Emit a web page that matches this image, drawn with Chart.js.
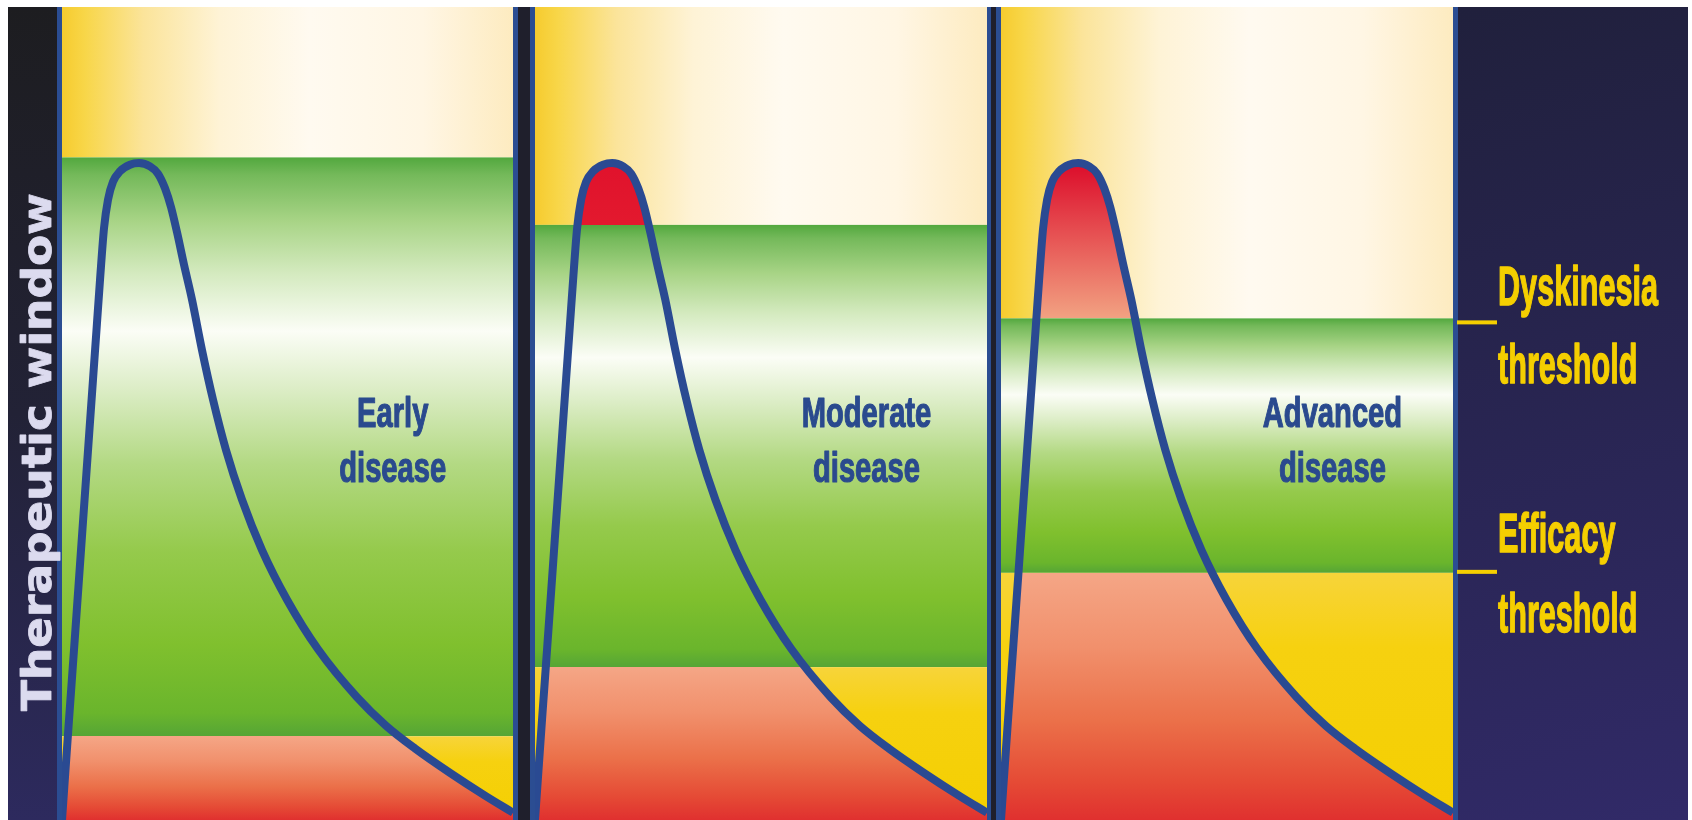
<!DOCTYPE html>
<html>
<head>
<meta charset="utf-8">
<script src="https://cdn.jsdelivr.net/npm/chart.js@4.4.0/dist/chart.umd.min.js"></script>
<style>
  html, body { margin: 0; padding: 0; background: #fff; }
  body { width: 1692px; height: 820px; position: relative; overflow: hidden; }
  .panel { position: absolute; top: 0; height: 820px; }
  .divider { position: absolute; top: 7px; height: 813px; }
</style>
</head>
<body>
<div class="panel" style="left:0;width:513px"><canvas id="early"></canvas></div>
<div class="divider" style="left:513px;width:22px;background:linear-gradient(to right,#2b4d92 0 5px,#1f1f2c 5px 17px,#2b4d92 17px 22px)"></div>
<div class="panel" style="left:535px;width:452px"><canvas id="moderate"></canvas></div>
<div class="divider" style="left:987px;width:14px;background:linear-gradient(to right,#2b4d92 0 4px,#1f1f2c 4px 9px,#2b4d92 9px 14px)"></div>
<div class="panel" style="left:1001px;width:691px"><canvas id="advanced"></canvas></div>
<script>
// levodopa plasma level after one dose (same curve in every stage)
const hours = [0, 0.186, 0.325, 0.524, 0.726, 0.929, 1.011, 1.118, 1.224, 1.357, 1.543, 1.809, 2.049,
  2.342, 2.554, 2.741, 2.900, 3.060, 3.246, 3.459, 3.725, 4.018, 4.364, 4.789, 5.322, 5.987,
  6.812, 7.850, 8.621, 9.393, 10.324, 11.255, 12];
const levodopaLevel = [0, 12.3, 21.3, 34.4, 47.7, 61.0, 66.4, 72.8, 76.3, 78.5, 79.8, 80.6, 80.8,
  80.4, 79.5, 77.7, 75.4, 72.3, 68.3, 64.0, 57.8, 51.7, 45.5, 39.4, 33.2, 27.1,
  21.0, 15.1, 11.6, 8.8, 5.8, 3.0, 0.9];

const stages = [['Early', 'disease'], ['Moderate', 'disease'], ['Advanced', 'disease']];
const dyskinesiaThreshold = [81.5, 73.2, 61.7];
const efficacyThreshold = [10.3, 18.8, 30.4];

const sideLabels = [['Dyskinesia', 'threshold'], ['Efficacy', 'threshold']];
const axisTitle = 'Therapeutic window';

// colours
const lineBlue = '#2a4a92';
const creamShades = [[0, '#f6cb2e'], [0.05, '#f8d648'], [0.18, '#fbe49a'], [0.35, '#fef3d6'], [0.55, '#fffaf0'], [0.8, '#fff6e4'], [1, '#fdebc0']];
const greenShades = [[0, '#52a83e'], [0.03, '#74b95a'], [0.11, '#a8d486'], [0.2, '#d4eabf'], [0.3, '#fbfdf6'], [0.4, '#dcedc6'], [0.53, '#b3d983'], [0.68, '#95ca4c'], [0.84, '#80c02e'], [0.96, '#6ab52c'], [1, '#55a536']];
const lowShades = [[0, '#f5a686'], [0.3, '#f1906c'], [0.6, '#eb7049'], [0.85, '#e54a35'], [1, '#e0302f']];
const peakShades = [['#e0142c', '#e0142c'], ['#e0122c', '#e3192e'], ['#dc0c2a', '#f2a282']];

const NARROW = '"Liberation Sans Narrow", "Liberation Sans", Arial, sans-serif';

function addStops(g, stops, from, to) {
  stops.forEach(([p, c]) => g.addColorStop(from + (to - from) * p, c));
}

// fill below the curve: red over the dyskinesia line, clear in the window, salmon under efficacy
function underCurveFill(chart, stage) {
  const a = chart.chartArea;
  if (!a) return 'transparent';
  const y = chart.scales.y;
  const h = a.bottom - a.top;
  const f = v => Math.min(1, Math.max(0, (y.getPixelForValue(v) - a.top) / h));
  const fD = f(dyskinesiaThreshold[stage]);
  const fE = f(efficacyThreshold[stage]);
  const fPeak = Math.min(f(Math.max(...levodopaLevel)), fD);
  const g = chart.ctx.createLinearGradient(0, a.top, 0, a.bottom);
  const [hot, warm] = peakShades[stage];
  g.addColorStop(0, hot);
  g.addColorStop(fPeak, hot);
  g.addColorStop(fD, warm);
  g.addColorStop(fD, 'rgba(255,255,255,0)');
  g.addColorStop(fE, 'rgba(255,255,255,0)');
  addStops(g, lowShades, fE, 1);
  return g;
}

function drawFit(ctx, text, x, y, font, sx, align, weight) {
  ctx.save();
  ctx.font = font;
  ctx.translate(x, y);
  ctx.scale(sx, 1);
  ctx.textAlign = align;
  ctx.fillText(text, 0, 0);
  if (weight) {
    ctx.lineWidth = weight;
    ctx.lineJoin = 'round';
    ctx.strokeStyle = ctx.fillStyle;
    ctx.strokeText(text, 0, 0);
  }
  ctx.restore();
}

const bandsPlugin = {
  id: 'stageBands',
  beforeDraw(chart, args, opts) {
    const { ctx, chartArea: a, scales: { y } } = chart;
    const yD = y.getPixelForValue(dyskinesiaThreshold[opts.stage]);
    const yE = y.getPixelForValue(efficacyThreshold[opts.stage]);
    ctx.save();
    let g = ctx.createLinearGradient(a.left, 0, a.right, 0);
    addStops(g, creamShades, 0, 1);
    ctx.fillStyle = g;
    ctx.fillRect(a.left, a.top, a.width, yD - a.top);

    g = ctx.createLinearGradient(0, yD, 0, yE);
    addStops(g, greenShades, 0, 1);
    ctx.fillStyle = g;
    ctx.fillRect(a.left, yD, a.width, yE - yD);

    g = ctx.createLinearGradient(0, yE, 0, a.bottom);
    g.addColorStop(0, '#f7d43a');
    g.addColorStop(0.3, '#f6d110');
    g.addColorStop(1, '#f4cf00');
    ctx.fillStyle = g;
    ctx.fillRect(a.left, yE, a.width, a.bottom - yE);

    if (opts.side === 'left') {
      g = ctx.createLinearGradient(0, a.top, 0, a.bottom);
      g.addColorStop(0, '#1d1d20');
      g.addColorStop(0.5, '#222236');
      g.addColorStop(1, '#2d2a5e');
      ctx.fillStyle = g;
      ctx.fillRect(8, a.top, a.left - 13, a.bottom - a.top);
      ctx.fillStyle = '#2b4d92';
      ctx.fillRect(a.left - 5, a.top, 5, a.bottom - a.top);
    }
    if (opts.side === 'right') {
      g = ctx.createLinearGradient(a.right, a.top, chart.width, a.bottom);
      g.addColorStop(0, '#20203c');
      g.addColorStop(1, '#312a68');
      ctx.fillStyle = g;
      ctx.fillRect(a.right + 5, a.top, chart.width - a.right - 9, a.bottom - a.top);
      ctx.fillStyle = '#2b4d92';
      ctx.fillRect(a.right, a.top, 5, a.bottom - a.top);
    }
    ctx.restore();
  },
  afterDraw(chart, args, opts) {
    const { ctx, chartArea: a, scales: { x, y } } = chart;
    ctx.save();
    // stage label
    const font = 'bold 42px ' + NARROW;
    ctx.font = font;
    const sx = 107 / ctx.measureText('disease').width;
    ctx.fillStyle = '#2a4a8e';
    const cx = x.getPixelForValue(opts.labelHour);
    stages[opts.stage].forEach((w, k) => {
      drawFit(ctx, w, cx, y.getPixelForValue(opts.labelLevels[k]), font, sx, 'center', 1.2);
    });

    if (opts.side === 'left') {
      const tf = 'bold 41px "DejaVu Sans", "Liberation Sans", Arial, sans-serif';
      ctx.font = tf;
      const tsx = 518 / ctx.measureText(axisTitle).width;
      ctx.save();
      ctx.translate(51, 452);
      ctx.rotate(-Math.PI / 2);
      ctx.fillStyle = '#dcdbef';
      drawFit(ctx, axisTitle, 0, 0, tf, tsx, 'center', 0.8);
      ctx.restore();
    }
    if (opts.side === 'right') {
      const yD = y.getPixelForValue(dyskinesiaThreshold[opts.stage]);
      const yE = y.getPixelForValue(efficacyThreshold[opts.stage]);
      const rf = 'bold 56px ' + NARROW;
      ctx.font = rf;
      const rsx = 160 / ctx.measureText(sideLabels[0][0]).width;
      ctx.fillStyle = '#f5cf00';
      const lx = a.right + 45;
      ctx.fillRect(a.right + 4, yD + 2, 40, 4);
      ctx.fillRect(a.right + 4, yE - 3, 40, 4);
      drawFit(ctx, sideLabels[0][0], lx, yD - 13, rf, rsx, 'left', 1.5);
      drawFit(ctx, sideLabels[0][1], lx, yD + 65, rf, rsx, 'left', 1.5);
      drawFit(ctx, sideLabels[1][0], lx, yE - 21, rf, rsx, 'left', 1.5);
      drawFit(ctx, sideLabels[1][1], lx, yE + 59, rf, rsx, 'left', 1.5);
    }
    ctx.restore();
  }
};

function panelChart(id, stage, padding, side) {
  return new Chart(document.getElementById(id), {
    type: 'line',
    data: {
      datasets: [{
        data: hours.map((h, k) => ({ x: h, y: levodopaLevel[k] })),
        borderColor: lineBlue,
        borderWidth: 8,
        cubicInterpolationMode: 'monotone',
        fill: 'origin',
        backgroundColor: c => underCurveFill(c.chart, stage),
        pointRadius: 0
      }]
    },
    options: {
      responsive: true,
      maintainAspectRatio: false,
      animation: false,
      events: [],
      layout: { padding },
      plugins: {
        legend: { display: false },
        tooltip: { enabled: false },
        stageBands: { stage, side, labelHour: 8.8, labelLevels: [48.3, 41.6] }
      },
      scales: {
        x: { type: 'linear', min: 0, max: 12, display: false },
        y: { min: 0, max: 100, display: false }
      }
    },
    plugins: [bandsPlugin]
  });
}

panelChart('early', 0, { left: 62, top: 7, right: 0, bottom: 0 }, 'left');
panelChart('moderate', 1, { left: 0, top: 7, right: 0, bottom: 0 }, null);
panelChart('advanced', 2, { left: 0, top: 7, right: 239, bottom: 0 }, 'right');
</script>
</body>
</html>
